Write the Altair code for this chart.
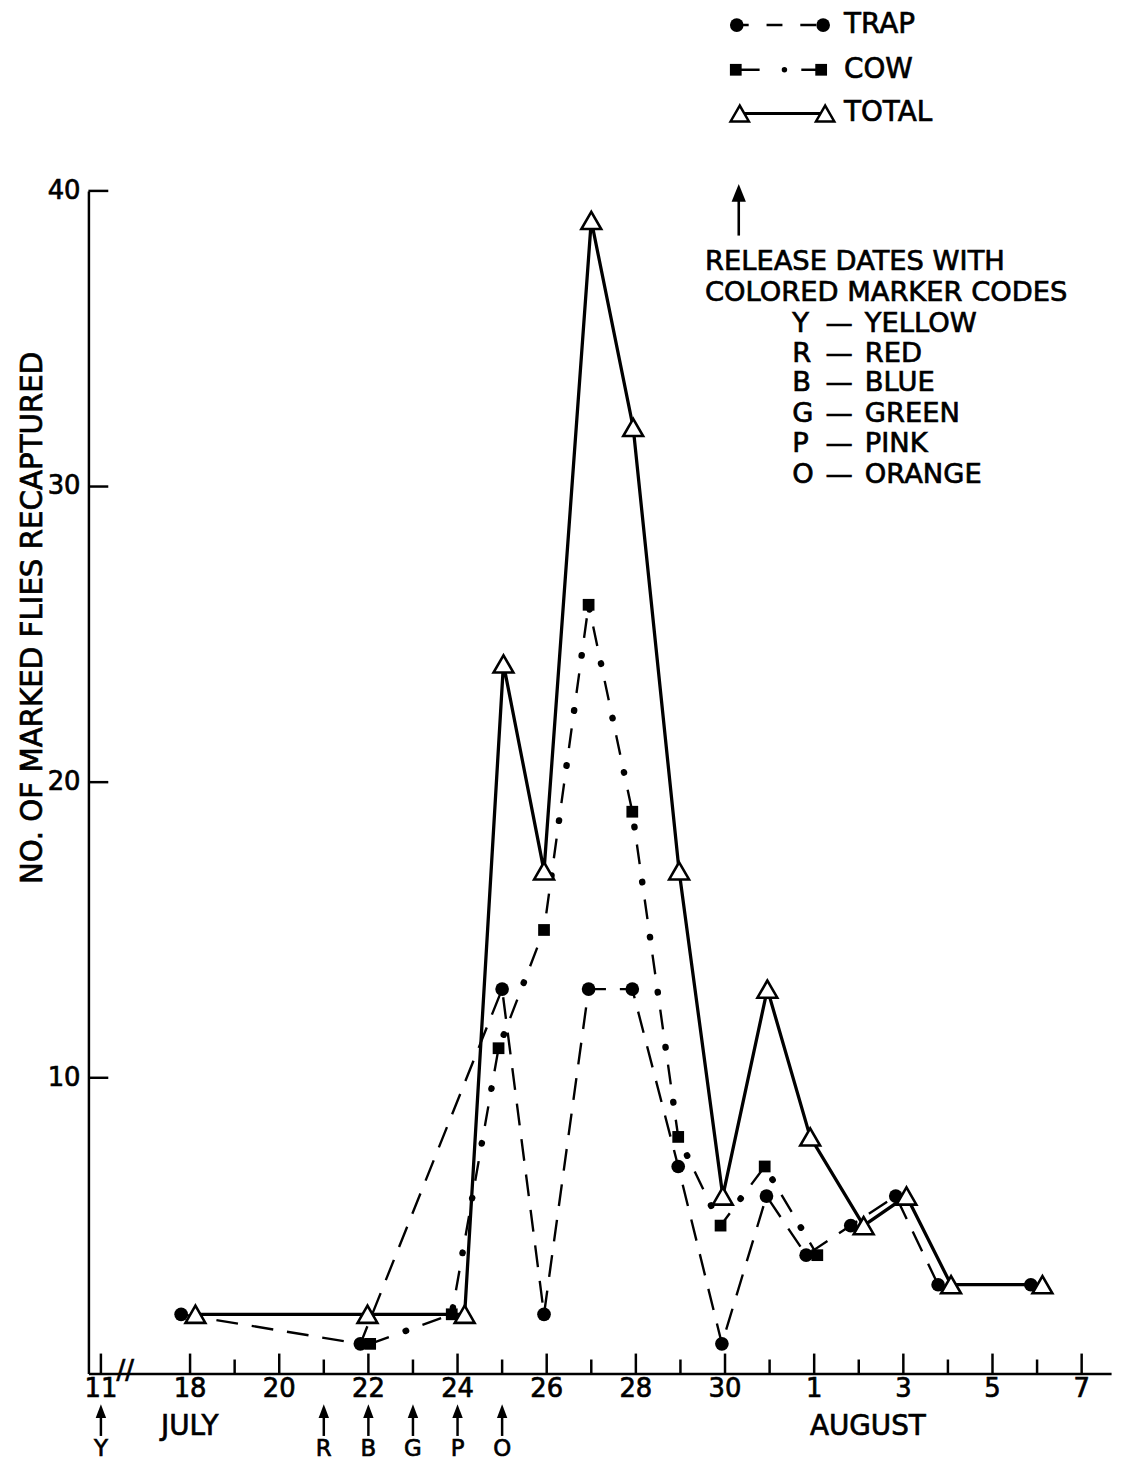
import altair as alt
import pandas as pd

# ---------------- data ----------------
# x position in "days": July dates as-is, August n -> 31 + n,
# July 11 is drawn at 16 (broken axis)
trap_x = [17.80, 21.82, 25.00, 25.94, 26.94, 27.92, 28.95, 29.93, 30.93, 31.82, 32.82, 33.83, 34.78, 36.86]
trap_y = [2, 1, 13, 2, 13, 13, 7, 1, 6, 4, 5, 6, 3, 3]
cow_x = [22.04, 23.87, 24.92, 25.94, 26.94, 27.92, 28.95, 29.90, 30.89, 32.07]
cow_y = [1, 2, 11, 15, 26, 19, 8, 5, 7, 4]
total_x = [18.12, 21.98, 24.16, 25.03, 25.94, 27.00, 27.94, 28.97, 29.95, 30.95, 31.91, 33.11, 34.07, 35.07, 37.12]
total_y = [2, 2, 2, 24, 17, 39, 32, 17, 6, 13, 8, 5, 6, 3, 3]

tick_pos = [16, 18, 20, 22, 24, 26, 28, 30, 32, 34, 36, 38]
tick_labels = ["11", "18", "20", "22", "24", "26", "28", "30", "1", "3", "5", "7"]
minor_pos = [19, 21, 23, 25, 27, 29, 31, 33, 35, 37]
y_ticks = [10, 20, 30, 40]
y_tick_labels = ["10", "20", "30", "40"]

release_pos = [16, 21, 22, 23, 24, 25]
release_letters = ["Y", "R", "B", "G", "P", "O"]
release_names = ["YELLOW", "RED", "BLUE", "GREEN", "PINK", "ORANGE"]

series_names = ["TRAP", "COW", "TOTAL"]
y_title = "NO. OF MARKED FLIES RECAPTURED"
month_labels = ["JULY", "AUGUST"]
note_lines = ["RELEASE DATES WITH", "COLORED MARKER CODES"]

# ---------------- layout ----------------
W, H = 1030, 1191
FONT = "DejaVu Sans"
TS = 0.7  # text stroke (heavier print look)

x_scale = alt.Scale(domain=[15.72, 38.66], nice=False, zero=False)
y_scale = alt.Scale(domain=[0, 40], nice=False, zero=False)

x_axis = alt.Axis(values=tick_pos, ticks=False, grid=False, labels=False,
                  domain=True, domainColor="black", domainWidth=2.5, title=None)
y_axis = alt.Axis(values=y_ticks, ticks=False, grid=False, labels=False, domain=True,
                  domainColor="black", domainWidth=2.5, title=None)

X = alt.X("x:Q", scale=x_scale, axis=x_axis)
Y = alt.Y("y:Q", scale=y_scale, axis=y_axis)

trap = pd.DataFrame({"x": trap_x, "y": trap_y})
cow = pd.DataFrame({"x": cow_x, "y": cow_y})
total = pd.DataFrame({"x": total_x, "y": total_y})
major = pd.DataFrame({"x": tick_pos, "lab": tick_labels})
minor = pd.DataFrame({"x": minor_pos})
yt = pd.DataFrame({"y": y_ticks, "lab": y_tick_labels})
rel = pd.DataFrame({"x": release_pos, "letter": release_letters})


def one():
    return alt.Chart(pd.DataFrame({"d": [0]}))


def txt(s, x, y, size=28, align="left", angle=0):
    return one().mark_text(font=FONT, fontSize=size, align=align, baseline="middle",
                           color="black", stroke="black", strokeWidth=TS,
                           angle=angle).encode(
        x=alt.value(x), y=alt.value(y), text=alt.value(s))


def pt(x, y, shape, size, fill="black", stroke=None, sw=0):
    kw = dict(shape=shape, size=size, filled=True, fill=fill, opacity=1)
    if stroke:
        kw.update(stroke=stroke, strokeWidth=sw)
    return one().mark_point(**kw).encode(x=alt.value(x), y=alt.value(y))


def hrule(x1, x2, y, dash=None, sw=2.5, offset=0):
    kw = dict(color="black", strokeWidth=sw)
    if dash:
        kw.update(strokeDash=dash, strokeDashOffset=offset)
    return one().mark_rule(**kw).encode(x=alt.value(x1), x2=alt.value(x2), y=alt.value(y))


layers = []

# inward ticks
layers.append(alt.Chart(major).mark_rule(color="black", strokeWidth=2.5).encode(
    x=X, y=alt.value(H), y2=alt.value(H - 20)))
layers.append(alt.Chart(minor).mark_rule(color="black", strokeWidth=2.5).encode(
    x=X, y=alt.value(H), y2=alt.value(H - 14)))
layers.append(alt.Chart(yt).mark_rule(color="black", strokeWidth=2.5).encode(
    y=Y, x=alt.value(0), x2=alt.value(20)))

# tick labels
layers.append(alt.Chart(major).mark_text(font=FONT, fontSize=26, color="black", stroke="black",
                                         strokeWidth=TS, align="center", baseline="middle").encode(
    x=X, y=alt.value(H + 16), text="lab:N"))
layers.append(alt.Chart(yt).mark_text(font=FONT, fontSize=26, color="black", stroke="black",
                                      strokeWidth=TS, align="right", baseline="middle").encode(
    y=Y, x=alt.value(-8), text="lab:N"))

# axis break mark
layers.append(txt("//", 37, H - 2, size=26, align="center"))

# lines
layers.append(alt.Chart(trap).mark_line(color="black", strokeWidth=2.4,
                                        strokeDash=[22, 14]).encode(x=X, y=Y))
layers.append(alt.Chart(cow).mark_line(color="black", strokeWidth=2.4,
                                       strokeDash=[20, 36]).encode(x=X, y=Y))
layers.append(alt.Chart(cow).mark_line(color="black", strokeWidth=6.5, strokeCap="round",
                                       strokeDash=[0.5, 55.5], strokeDashOffset=18).encode(x=X, y=Y))
layers.append(alt.Chart(total).mark_line(color="black", strokeWidth=3.3).encode(x=X, y=Y))

# markers
layers.append(alt.Chart(cow).mark_point(shape="square", size=140, filled=True,
                                        color="black", opacity=1).encode(x=X, y=Y))
layers.append(alt.Chart(trap).mark_point(shape="circle", size=190, filled=True,
                                         color="black", opacity=1).encode(x=X, y=Y))
layers.append(alt.Chart(total).mark_point(shape="triangle-up", size=400, filled=True,
                                          fill="white", stroke="black", strokeWidth=2.6,
                                          opacity=1).encode(x=X, y=Y))

# release arrows below the axis
layers.append(alt.Chart(rel).mark_rule(color="black", strokeWidth=2.5).encode(
    x=X, y=alt.value(1232), y2=alt.value(1254)))
layers.append(alt.Chart(rel).mark_point(shape="M0,-1L0.75,1L-0.75,1Z", size=196, filled=True,
                                        color="black", opacity=1).encode(
    x=X, y=alt.value(1229)))
layers.append(alt.Chart(rel).mark_text(font=FONT, fontSize=23, color="black", stroke="black",
                                       strokeWidth=TS, baseline="middle", align="center").encode(
    x=X, y=alt.value(1267), text="letter:N"))

# month labels
layers.append(txt(month_labels[0], 102, 1245, align="center"))
layers.append(txt(month_labels[1], 785, 1245, align="center"))

# y title
layers.append(txt(y_title, -56, 430, size=29.5, align="center", angle=270))

# legend (top)
ly = [-167, -122, -78]
layers.append(hrule(653, 740, ly[0], dash=[16, 18], offset=4))
layers.append(pt(653, ly[0], "circle", 190))
layers.append(pt(740, ly[0], "circle", 190))
layers.append(hrule(652, 676, ly[1]))
layers.append(hrule(718, 738, ly[1]))
layers.append(pt(701, ly[1], "circle", 30))
layers.append(pt(652, ly[1], "square", 140))
layers.append(pt(738, ly[1], "square", 140))
layers.append(hrule(656, 742, ly[2], sw=3))
layers.append(pt(656, ly[2], "triangle-up", 340, fill="white", stroke="black", sw=2.5))
layers.append(pt(742, ly[2], "triangle-up", 340, fill="white", stroke="black", sw=2.5))
for name, yy in zip(series_names, ly):
    layers.append(txt(name, 761, yy))

# release-date note
layers.append(one().mark_rule(color="black", strokeWidth=2.6).encode(
    x=alt.value(655), y=alt.value(8), y2=alt.value(45)))
layers.append(pt(655, 2, "M0,-1L0.8,1L-0.8,1Z", 324))
layers.append(txt(note_lines[0], 621, 72, size=27.5))
layers.append(txt(note_lines[1], 621, 103, size=27.5))
row_y = [134, 164, 194, 225, 255, 286]
for letter, name, yy in zip(release_letters, release_names, row_y):
    layers.append(txt(letter, 709, yy, size=27.5))
    layers.append(txt("\u2014", 756, yy, size=27.5, align="center"))
    layers.append(txt(name, 782, yy, size=27.5))

chart = alt.layer(*layers).properties(
    width=W, height=H,
    padding={"left": 81, "top": 179, "right": 11, "bottom": 84},
    autosize=alt.AutoSizeParams(type="none"),
    background="white",
).configure_view(stroke=None)

chart.save("out.html", embed_options={"renderer": "svg", "actions": False})
